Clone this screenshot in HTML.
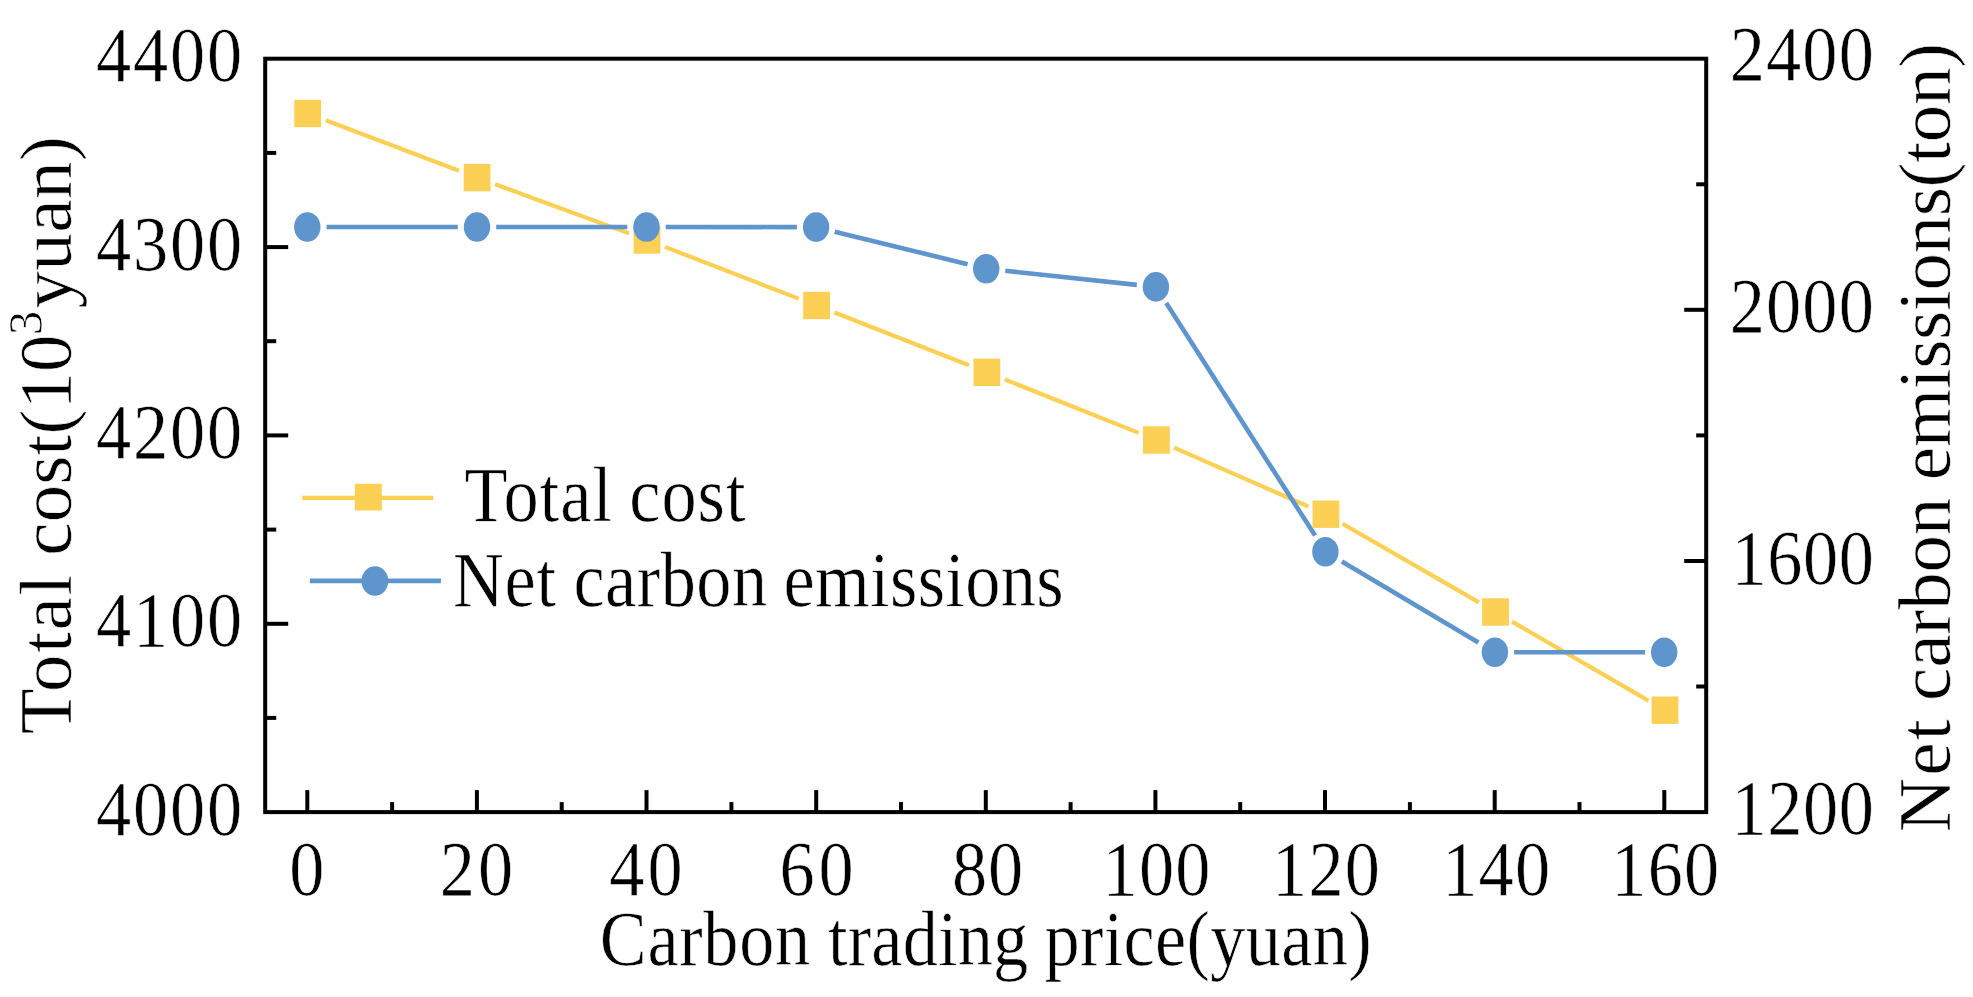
<!DOCTYPE html>
<html lang="en"><head><meta charset="utf-8"><title>Carbon trading price chart</title>
<style>
html,body{margin:0;padding:0;background:#fff;}
body{width:1973px;height:997px;overflow:hidden;}
svg{display:block;filter:blur(0.45px);}
text{font-family:"Liberation Serif",serif;fill:#000;white-space:pre;stroke:#fff;stroke-width:0.6;stroke-linejoin:round;}
</style></head><body>
<svg width="1973" height="997" viewBox="0 0 1973 997">
<rect width="1973" height="997" fill="#fff"/>
<g id="lines" stroke-linecap="butt">
<line x1="325.7" y1="120.3" x2="459.1" y2="170.8" stroke="#FCCF55" stroke-width="4.2"/>
<line x1="495.1" y1="184.2" x2="629.0" y2="233.4" stroke="#FCCF55" stroke-width="4.2"/>
<line x1="664.9" y1="246.9" x2="798.7" y2="298.6" stroke="#FCCF55" stroke-width="4.2"/>
<line x1="834.5" y1="312.5" x2="969.0" y2="365.3" stroke="#FCCF55" stroke-width="4.2"/>
<line x1="1004.7" y1="379.4" x2="1138.6" y2="432.9" stroke="#FCCF55" stroke-width="4.2"/>
<line x1="1174.0" y1="447.7" x2="1308.3" y2="506.5" stroke="#FCCF55" stroke-width="4.2"/>
<line x1="1342.5" y1="523.8" x2="1478.9" y2="602.4" stroke="#FCCF55" stroke-width="4.2"/>
<line x1="1512.1" y1="621.6" x2="1648.4" y2="700.6" stroke="#FCCF55" stroke-width="4.2"/>
<line x1="326.5" y1="227.0" x2="457.8" y2="227.0" stroke="#5E95CD" stroke-width="4.6"/>
<line x1="496.2" y1="227.0" x2="627.3" y2="227.0" stroke="#5E95CD" stroke-width="4.6"/>
<line x1="665.7" y1="227.0" x2="796.9" y2="227.1" stroke="#5E95CD" stroke-width="4.6"/>
<line x1="834.7" y1="231.7" x2="967.6" y2="264.2" stroke="#5E95CD" stroke-width="4.6"/>
<line x1="1005.3" y1="270.8" x2="1136.8" y2="284.9" stroke="#5E95CD" stroke-width="4.6"/>
<line x1="1166.2" y1="303.1" x2="1315.1" y2="535.6" stroke="#5E95CD" stroke-width="4.6"/>
<line x1="1341.9" y1="561.6" x2="1478.4" y2="642.4" stroke="#5E95CD" stroke-width="4.6"/>
<line x1="1514.1" y1="652.2" x2="1645.0" y2="652.2" stroke="#5E95CD" stroke-width="4.6"/>
</g>
<g id="markers">
<rect x="294.3" y="99.8" width="26.8" height="27.4" fill="#FCCF55"/>
<rect x="463.7" y="163.9" width="26.8" height="27.4" fill="#FCCF55"/>
<rect x="633.6" y="226.3" width="26.8" height="27.4" fill="#FCCF55"/>
<rect x="803.2" y="291.8" width="26.8" height="27.4" fill="#FCCF55"/>
<rect x="973.5" y="358.6" width="26.8" height="27.4" fill="#FCCF55"/>
<rect x="1143.0" y="426.3" width="26.8" height="27.4" fill="#FCCF55"/>
<rect x="1312.5" y="500.5" width="26.8" height="27.4" fill="#FCCF55"/>
<rect x="1482.1" y="598.3" width="26.8" height="27.4" fill="#FCCF55"/>
<rect x="1651.6" y="696.5" width="26.8" height="27.4" fill="#FCCF55"/>
<ellipse cx="307.3" cy="227.0" rx="13.2" ry="14.8" fill="#5E95CD"/>
<ellipse cx="477.0" cy="227.0" rx="13.2" ry="14.8" fill="#5E95CD"/>
<ellipse cx="646.5" cy="227.0" rx="13.2" ry="14.8" fill="#5E95CD"/>
<ellipse cx="816.1" cy="227.1" rx="13.2" ry="14.8" fill="#5E95CD"/>
<ellipse cx="986.2" cy="268.8" rx="13.2" ry="14.8" fill="#5E95CD"/>
<ellipse cx="1155.9" cy="286.9" rx="13.2" ry="14.8" fill="#5E95CD"/>
<ellipse cx="1325.4" cy="551.8" rx="13.2" ry="14.8" fill="#5E95CD"/>
<ellipse cx="1494.9" cy="652.2" rx="13.2" ry="14.8" fill="#5E95CD"/>
<ellipse cx="1664.2" cy="652.2" rx="13.2" ry="14.8" fill="#5E95CD"/>
</g>
<g id="legend">
<line x1="302.3" y1="497.8" x2="433.3" y2="497.8" stroke="#FCCF55" stroke-width="4.2"/>
<rect x="354.8" y="483.8" width="27.0" height="26.7" fill="#FCCF55"/>
<line x1="309.9" y1="580.9" x2="440.9" y2="580.9" stroke="#5E95CD" stroke-width="4.6"/>
<ellipse cx="374.9" cy="581.0" rx="13.4" ry="14.8" fill="#5E95CD"/>
</g>
<g id="axes" stroke="#000" stroke-width="4" fill="none" stroke-linecap="butt">
<rect x="265.2" y="58.7" width="1441.0" height="753.4"/>
<line x1="307.3" y1="812.1" x2="307.3" y2="790.1"/>
<line x1="392.1" y1="812.1" x2="392.1" y2="802.1"/>
<line x1="476.9" y1="812.1" x2="476.9" y2="790.1"/>
<line x1="561.7" y1="812.1" x2="561.7" y2="802.1"/>
<line x1="646.5" y1="812.1" x2="646.5" y2="790.1"/>
<line x1="731.4" y1="812.1" x2="731.4" y2="802.1"/>
<line x1="816.2" y1="812.1" x2="816.2" y2="790.1"/>
<line x1="901.0" y1="812.1" x2="901.0" y2="802.1"/>
<line x1="985.8" y1="812.1" x2="985.8" y2="790.1"/>
<line x1="1070.6" y1="812.1" x2="1070.6" y2="802.1"/>
<line x1="1155.4" y1="812.1" x2="1155.4" y2="790.1"/>
<line x1="1240.2" y1="812.1" x2="1240.2" y2="802.1"/>
<line x1="1325.0" y1="812.1" x2="1325.0" y2="790.1"/>
<line x1="1409.9" y1="812.1" x2="1409.9" y2="802.1"/>
<line x1="1494.7" y1="812.1" x2="1494.7" y2="790.1"/>
<line x1="1579.5" y1="812.1" x2="1579.5" y2="802.1"/>
<line x1="1664.3" y1="812.1" x2="1664.3" y2="790.1"/>
<line x1="265.2" y1="717.9" x2="276.2" y2="717.9"/>
<line x1="265.2" y1="623.8" x2="288.2" y2="623.8"/>
<line x1="265.2" y1="529.6" x2="276.2" y2="529.6"/>
<line x1="265.2" y1="435.4" x2="288.2" y2="435.4"/>
<line x1="265.2" y1="341.2" x2="276.2" y2="341.2"/>
<line x1="265.2" y1="247.1" x2="288.2" y2="247.1"/>
<line x1="265.2" y1="152.9" x2="276.2" y2="152.9"/>
<line x1="1706.2" y1="686.5" x2="1696.2" y2="686.5"/>
<line x1="1706.2" y1="561.0" x2="1684.2" y2="561.0"/>
<line x1="1706.2" y1="435.4" x2="1696.2" y2="435.4"/>
<line x1="1706.2" y1="309.8" x2="1684.2" y2="309.8"/>
<line x1="1706.2" y1="184.3" x2="1696.2" y2="184.3"/>
</g>
<g id="labels">
<text id="legend-total-cost" transform="scale(0.89,1)" font-size="79"><tspan x="522.0" y="520.8" letter-spacing="1.12">Total</tspan> <tspan x="707.1" y="520.8" letter-spacing="1.09">cost</tspan></text>
<text id="legend-net-carbon" transform="scale(0.89,1)" font-size="79"><tspan x="509.1" y="605.6" letter-spacing="0.84">Net</tspan> <tspan x="644.3" y="605.6" letter-spacing="0.56">carbon</tspan> <tspan x="880.4" y="605.6" letter-spacing="0.38">emissions</tspan></text>
<text id="yl4400" transform="scale(0.89,1)" font-size="79"><tspan x="107.8" y="81.2" letter-spacing="2.13">4400</tspan></text>
<text id="yl4300" transform="scale(0.89,1)" font-size="79"><tspan x="107.8" y="269.6" letter-spacing="2.13">4300</tspan></text>
<text id="yl4200" transform="scale(0.89,1)" font-size="79"><tspan x="107.8" y="457.9" letter-spacing="2.13">4200</tspan></text>
<text id="yl4100" transform="scale(0.89,1)" font-size="79"><tspan x="107.8" y="646.2" letter-spacing="2.13">4100</tspan></text>
<text id="yl4000" transform="scale(0.89,1)" font-size="79"><tspan x="107.8" y="834.6" letter-spacing="2.13">4000</tspan></text>
<text id="yr2400" transform="scale(0.89,1)" font-size="79"><tspan x="1943.6" y="80.1" letter-spacing="1.27">2400</tspan></text>
<text id="yr2000" transform="scale(0.89,1)" font-size="79"><tspan x="1943.6" y="332.3" letter-spacing="1.27">2000</tspan></text>
<text id="yr1600" transform="scale(0.89,1)" font-size="79"><tspan x="1945.6" y="583.8" letter-spacing="0.60">1600</tspan></text>
<text id="yr1200" transform="scale(0.89,1)" font-size="79"><tspan x="1945.6" y="834.1" letter-spacing="0.60">1200</tspan></text>
<text id="x0" transform="scale(0.89,1)" font-size="79"><tspan x="325.1" y="894.7" letter-spacing="0.00">0</tspan></text>
<text id="x20" transform="scale(0.89,1)" font-size="79"><tspan x="494.0" y="894.7" letter-spacing="3.71">20</tspan></text>
<text id="x40" transform="scale(0.89,1)" font-size="79"><tspan x="684.7" y="894.7" letter-spacing="3.48">40</tspan></text>
<text id="x60" transform="scale(0.89,1)" font-size="79"><tspan x="875.8" y="894.7" letter-spacing="4.27">60</tspan></text>
<text id="x80" transform="scale(0.89,1)" font-size="79"><tspan x="1069.6" y="894.7" letter-spacing="1.01">80</tspan></text>
<text id="x100" transform="scale(0.89,1)" font-size="79"><tspan x="1238.8" y="894.7" letter-spacing="1.40">100</tspan></text>
<text id="x120" transform="scale(0.89,1)" font-size="79"><tspan x="1429.3" y="894.7" letter-spacing="1.40">120</tspan></text>
<text id="x140" transform="scale(0.89,1)" font-size="79"><tspan x="1620.4" y="894.7" letter-spacing="1.40">140</tspan></text>
<text id="x160" transform="scale(0.89,1)" font-size="79"><tspan x="1810.4" y="894.7" letter-spacing="1.40">160</tspan></text>
<text id="x-title" transform="scale(0.89,1)" font-size="79"><tspan x="674.0" y="965.4" letter-spacing="0.74">Carbon</tspan> <tspan x="930.3" y="965.4" letter-spacing="0.21">trading</tspan> <tspan x="1173.6" y="965.4" letter-spacing="0.35">price(yuan)</tspan></text>
<text id="y-title-left" transform="rotate(-90)" font-size="75"><tspan x="-734.2" y="71.2" letter-spacing="1.62">Total</tspan> <tspan x="-555.7" y="71.2" letter-spacing="0.08">cost(10</tspan><tspan x="-335.2" y="42.1" font-size="49" letter-spacing="0.00">3</tspan><tspan x="-308.6" y="71.2" letter-spacing="0.40">yuan)</tspan></text>
<text id="y-title-right" transform="rotate(-90)" font-size="75"><tspan x="-832.2" y="1949.8" letter-spacing="2.30">Net</tspan> <tspan x="-701.0" y="1949.8" letter-spacing="-0.14">carbon</tspan> <tspan x="-480.2" y="1949.8" letter-spacing="-0.34">emissions(ton)</tspan></text>
</g>
</svg></body></html>
